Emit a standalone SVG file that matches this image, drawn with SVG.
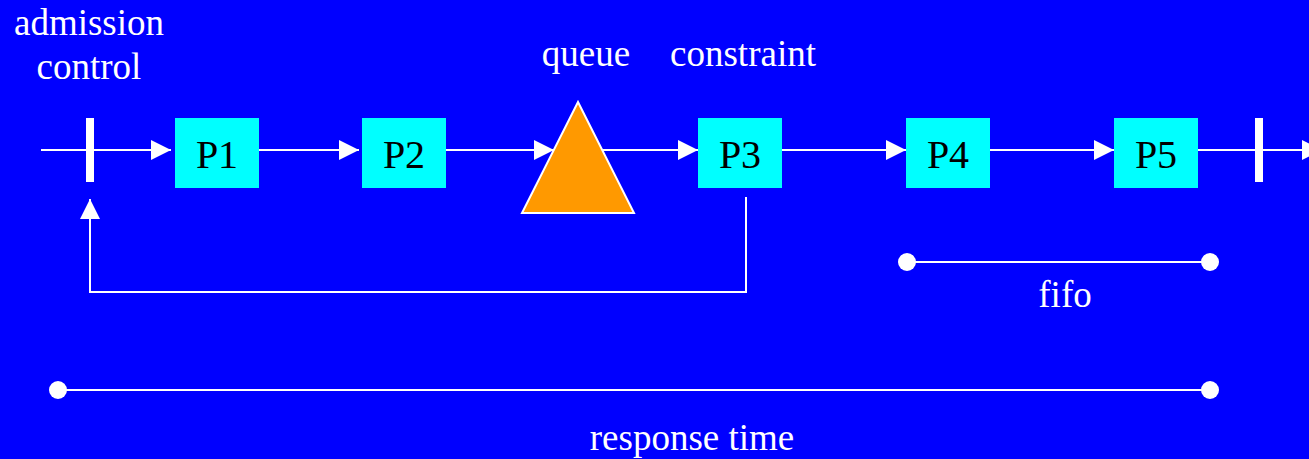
<svg xmlns="http://www.w3.org/2000/svg" width="1309" height="459" viewBox="0 0 1309 459">
  <style>
    .bg { fill: #0000FF; }
    .proc { fill: #00FFFF; }
    .plabel { font-family: "Liberation Serif", "Times New Roman", serif; font-size: 40px; fill: #000000; text-anchor: middle; }
    .label { font-family: "Liberation Serif", "Times New Roman", serif; font-size: 37px; fill: #FFFFFF; text-anchor: middle; }
    .wire { stroke: #FFFFFF; stroke-width: 2; fill: none; }
    .bar { fill: #FFFFFF; }
    .dot { fill: #FFFFFF; }
  </style>
  <defs>
    <marker id="arrow" markerUnits="userSpaceOnUse" markerWidth="20" markerHeight="20" viewBox="0 0 20 20" refX="20" refY="10" orient="auto">
      <path d="M0,0 L20,10 L0,20 Z" fill="#FFFFFF"/>
    </marker>
  </defs>

  <rect class="bg" x="0" y="0" width="1309" height="459"/>

  <!-- connectors -->
  <g id="connectors">
    <line class="wire" x1="41" y1="150" x2="171" y2="150" marker-end="url(#arrow)"/>
    <line class="wire" x1="250" y1="150" x2="359" y2="150" marker-end="url(#arrow)"/>
    <line class="wire" x1="440" y1="150" x2="554" y2="150" marker-end="url(#arrow)"/>
    <line class="wire" x1="600" y1="150" x2="698" y2="150" marker-end="url(#arrow)"/>
    <line class="wire" x1="778" y1="150" x2="906" y2="150" marker-end="url(#arrow)"/>
    <line class="wire" x1="985" y1="150" x2="1114" y2="150" marker-end="url(#arrow)"/>
    <line class="wire" x1="1192" y1="150" x2="1322" y2="150" marker-end="url(#arrow)"/>
    <polyline class="wire" points="746,197 746,292 90,292 90,199" marker-end="url(#arrow)"/>
  </g>

  <!-- admission gates -->
  <g id="gate-in">
    <rect class="bar" x="86" y="118" width="8" height="64"/>
  </g>
  <g id="gate-out">
    <rect class="bar" x="1255" y="118" width="8" height="64"/>
  </g>

  <!-- processing stages -->
  <g id="p1">
    <rect class="proc" x="175" y="118" width="84" height="70"/>
    <text class="plabel" x="217" y="168">P1</text>
  </g>
  <g id="p2">
    <rect class="proc" x="362" y="118" width="84" height="70"/>
    <text class="plabel" x="404" y="168">P2</text>
  </g>
  <g id="queue">
    <polygon points="578,102 634,213 522,213" fill="#FF9900" stroke="#FFFFFF" stroke-width="2" stroke-linejoin="miter"/>
  </g>
  <g id="p3">
    <rect class="proc" x="698" y="118" width="84" height="70"/>
    <text class="plabel" x="740" y="168">P3</text>
  </g>
  <g id="p4">
    <rect class="proc" x="906" y="118" width="84" height="70"/>
    <text class="plabel" x="948" y="168">P4</text>
  </g>
  <g id="p5">
    <rect class="proc" x="1114" y="118" width="84" height="70"/>
    <text class="plabel" x="1156" y="168">P5</text>
  </g>

  <!-- spans -->
  <g id="fifo-span">
    <line class="wire" x1="907" y1="262" x2="1210" y2="262"/>
    <circle class="dot" cx="907" cy="262" r="9"/>
    <circle class="dot" cx="1210" cy="262" r="9"/>
    <text class="label" x="1065" y="307">fifo</text>
  </g>
  <g id="response-span">
    <line class="wire" x1="58" y1="390" x2="1210" y2="390"/>
    <circle class="dot" cx="58" cy="390" r="9"/>
    <circle class="dot" cx="1210" cy="390" r="9"/>
    <text class="label" x="692" y="450">response time</text>
  </g>

  <!-- labels -->
  <g id="labels">
    <text class="label" x="89" y="35">admission</text>
    <text class="label" x="89" y="79">control</text>
    <text class="label" x="586" y="66">queue</text>
    <text class="label" x="743" y="66">constraint</text>
  </g>
</svg>
